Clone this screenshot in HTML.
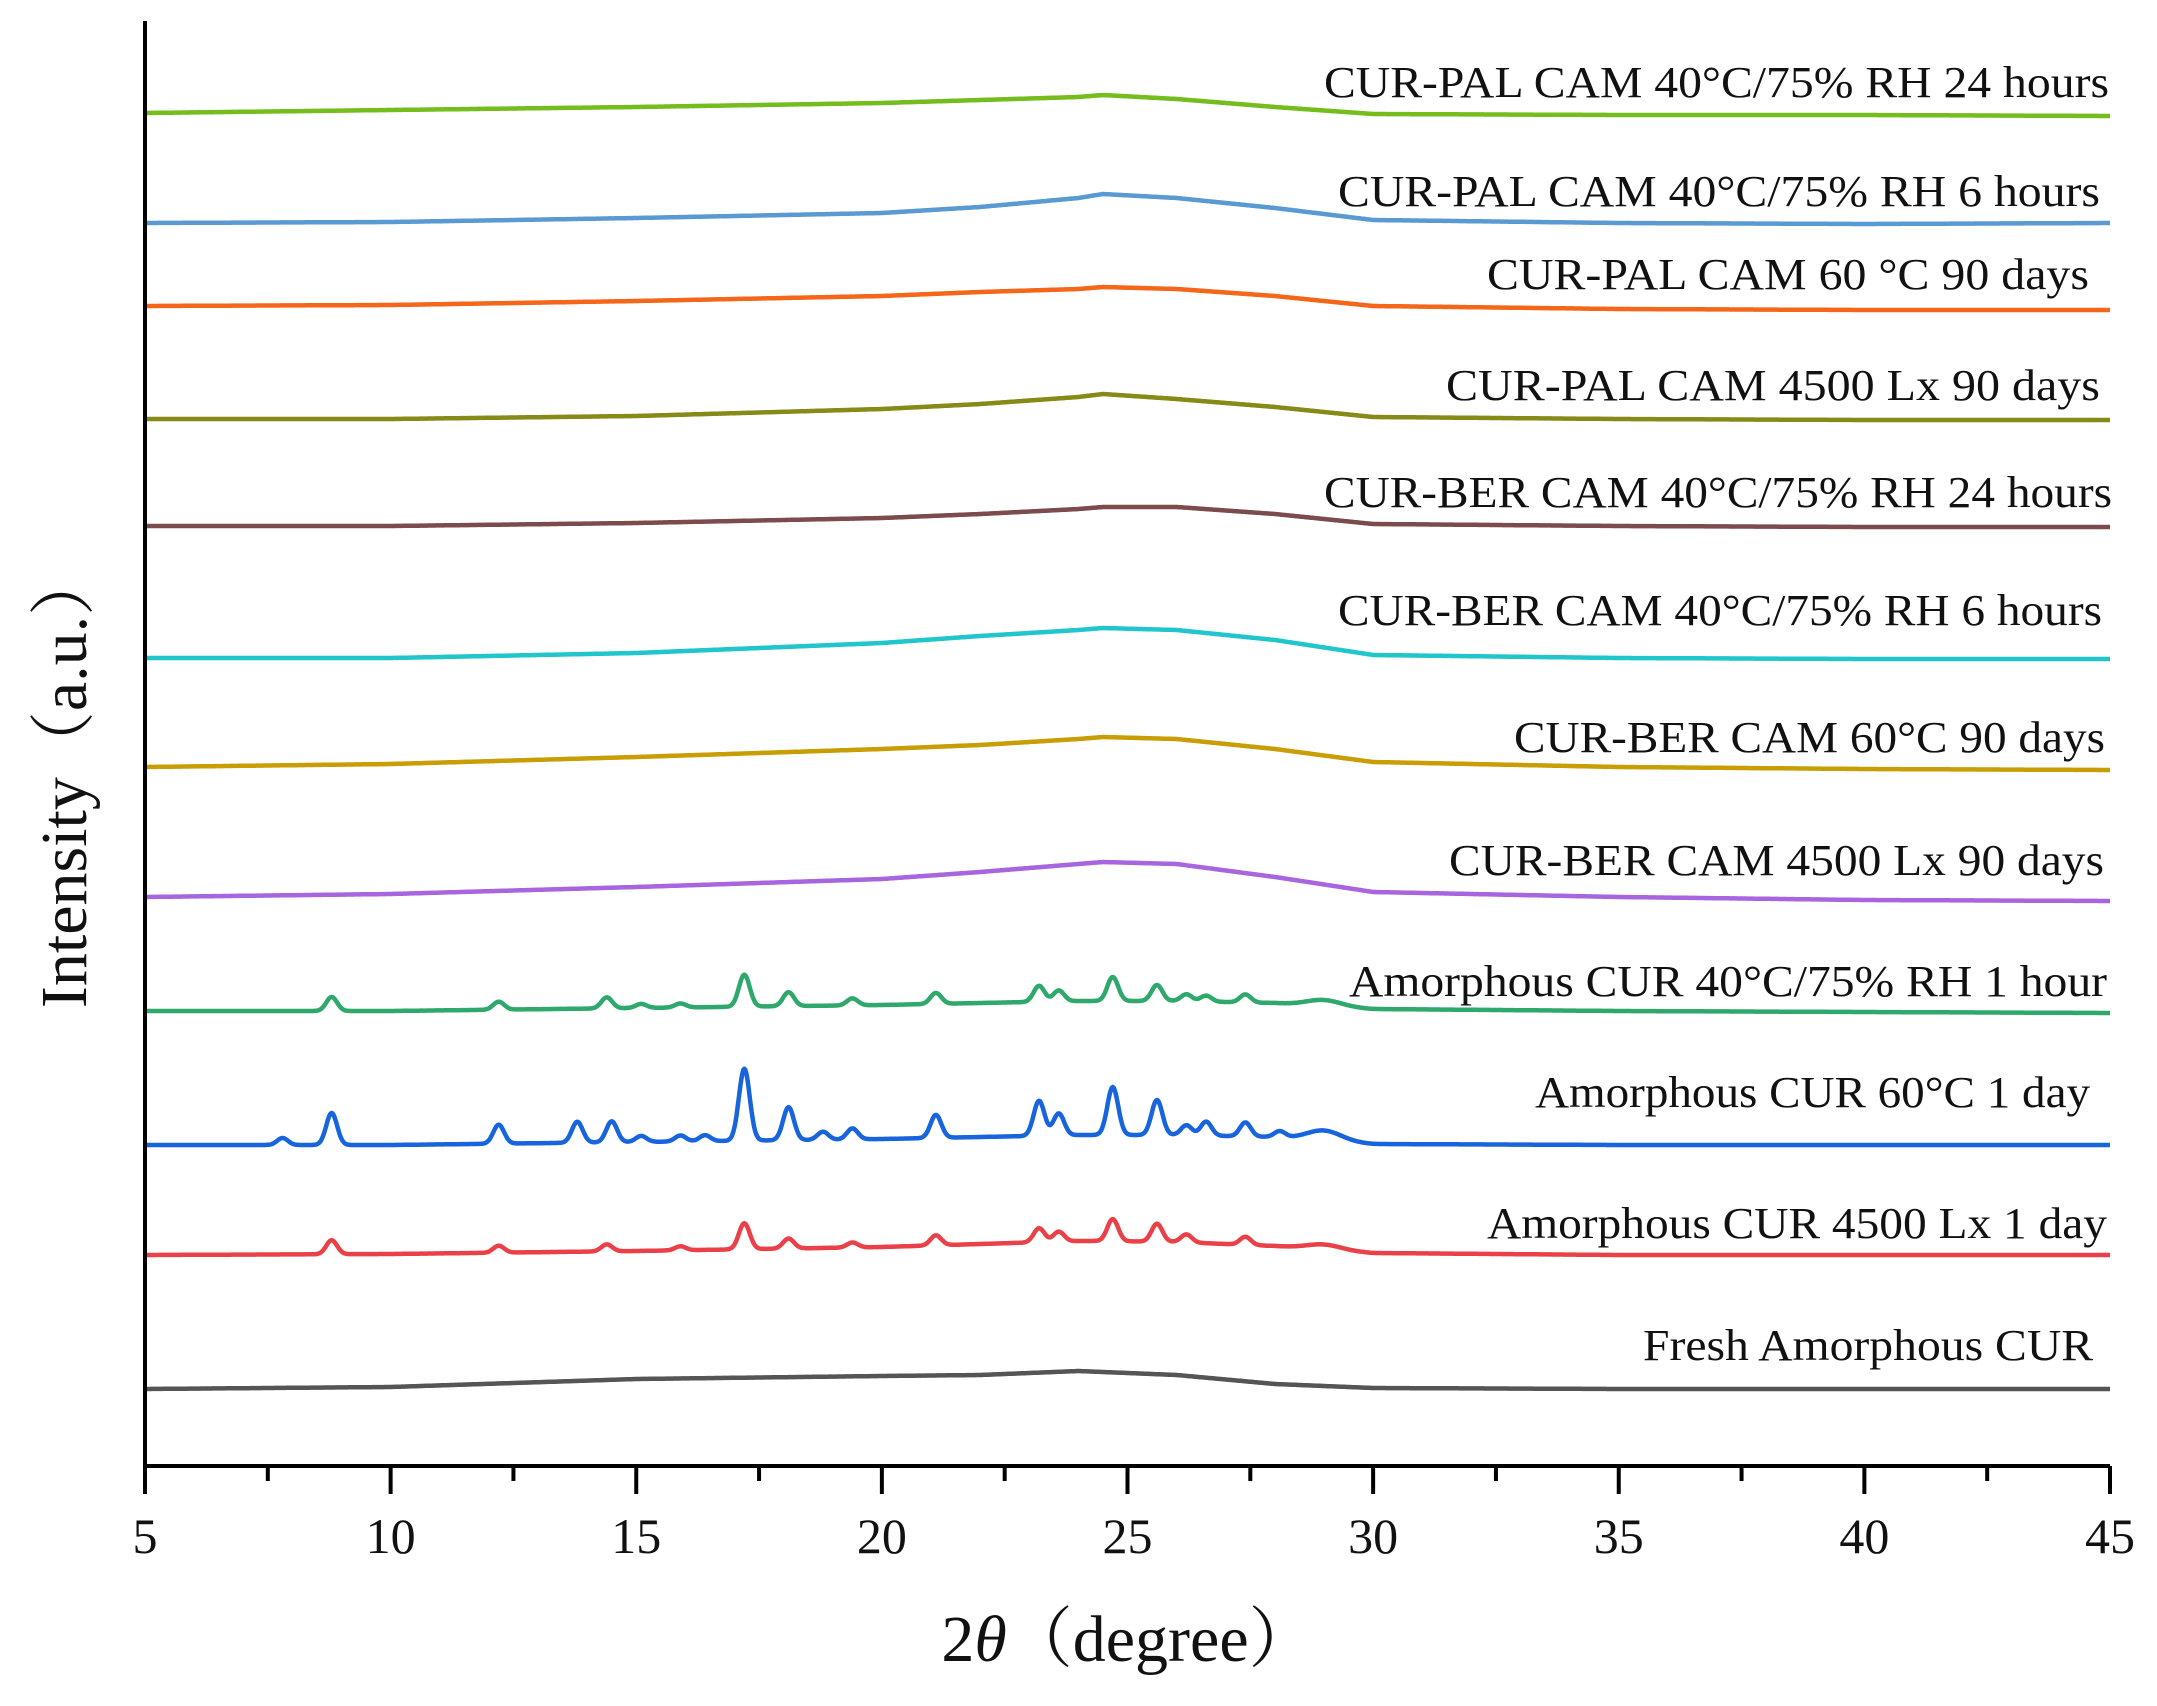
<!DOCTYPE html>
<html><head><meta charset="utf-8">
<style>html,body{margin:0;padding:0;background:#fff;}svg{display:block;}</style>
</head><body>
<svg id="chart" width="2157" height="1706" viewBox="0 0 2157 1706" xmlns="http://www.w3.org/2000/svg" font-family="'Liberation Serif', serif">
<g id="series"></g>
<g id="labels"></g>
<g id="axes"></g>
</svg>
<script>
// ---- data ----
const xTicks = [5,10,15,20,25,30,35,40,45];
const humpX = [5,10,15,20,22,24,24.5,26,28,30,35,40,45];
const seriesNames = [
 "CUR-PAL CAM 40°C/75% RH 24 hours","CUR-PAL CAM 40°C/75% RH 6 hours","CUR-PAL CAM 60 °C 90 days",
 "CUR-PAL CAM 4500 Lx 90 days","CUR-BER CAM 40°C/75% RH 24 hours","CUR-BER CAM 40°C/75% RH 6 hours",
 "CUR-BER CAM 60°C 90 days","CUR-BER CAM 4500 Lx 90 days","Amorphous CUR 40°C/75% RH 1 hour",
 "Amorphous CUR 60°C 1 day","Amorphous CUR 4500 Lx 1 day","Fresh Amorphous CUR"];
const seriesColors = ["#74bd1c","#5a9ad3","#f5661a","#868a17","#7b4b4e","#20c6cc","#c99e05","#a766df","#2fa86c","#1764dc","#ea4148","#555555"];
const seriesOffsets = [1353,1243,1160,1047,940,808,699,569,455,321,211,77];
const humps = [
 [0,3,6,10,13,16,18,14,6,-1,-2,-2,-3],
 [0,1,5,10,16,25,29,25,15,3,0,-1,0],
 [0,1,5,10,14,17,19,17,10,0,-3,-4,-4],
 [0,0,3,10,15,22,25,20,12,2,0,-1,-1],
 [0,0,3,8,12,17,19,19,12,2,0,-1,-1],
 [0,0,5,15,22,28,30,28,18,3,0,-1,-1],
 [0,3,10,18,22,28,30,28,18,5,0,-2,-3],
 [0,3,10,18,25,33,35,33,20,5,0,-3,-4],
 [0,0,3,6,8,10,10,10,8,2,0,-1,-2],
 [0,0,3,6,8,10,10,10,8,1,0,0,0],
 [0,1,4,8,11,14,14,13,9,2,0,0,0],
 [0,2,10,13,14,18,17,14,5,1,0,0,0]
];
const peaksGreen = [[8.8,14],[12.2,8],[14.4,11],[15.1,4],[15.9,4],[17.2,32],[18.1,14],[19.4,7],[21.1,11],[23.2,16],[23.6,11],[24.7,24],[25.6,16],[26.2,7],[26.6,6],[27.4,8],[29.0,6]];
const peaksBlue = [[7.8,7],[8.8,32],[12.2,19],[13.8,21],[14.5,21],[15.1,6],[15.9,6],[16.4,6],[17.2,72],[18.1,33],[18.8,8],[19.4,11],[21.1,23],[23.2,35],[23.6,22],[24.7,48],[25.6,35],[26.2,10],[26.6,14],[27.4,14],[28.1,6],[29.0,10]];
const peaksRed = [[8.8,14],[12.2,7],[14.4,7],[15.9,4],[17.2,26],[18.1,10],[19.4,5],[21.1,10],[23.2,14],[23.6,10],[24.7,22],[25.6,18],[26.2,8],[27.4,8],[29.0,5]];
const seriesPeaks = [[],[],[],[],[],[],[],[],peaksGreen,peaksBlue,peaksRed,[]];
const labelBaselines = [97,206,289,400,507,625,752,875,996,1107,1238,1360];
const labelRights = [2109,2100,2089,2100,2112,2102,2105,2104,2107,2090,2107,2093];
const labelLefts = [1324,1338,1487,1446,1324,1338,1514,1449,1349,1535,1487,1643];

// ---- scales ----
const X0=145, X1=2110, Y0=1466, YT=21;
const xs = v => X0 + (v-5)/(45-5)*(X1-X0);
const ys = v => Y0 - v;
const NS='http://www.w3.org/2000/svg';
function mk(tag, attrs, parent){const e=document.createElementNS(NS,tag);for(const k in attrs)e.setAttribute(k,attrs[k]);parent.appendChild(e);return e;}
function interp(arr,x){for(let i=0;i<humpX.length-1;i++){if(x<=humpX[i+1]){const t=(x-humpX[i])/(humpX[i+1]-humpX[i]);return arr[i]+t*(arr[i+1]-arr[i]);}}return arr[arr.length-1];}

const gS=document.getElementById('series');
seriesNames.forEach((name,i)=>{
  let d='';
  for(let x=5;x<=45.0001;x+=0.02){
    let v=seriesOffsets[i]+interp(humps[i],x);
    seriesPeaks[i].forEach(p=>{const w=p[0]>28.5?0.35:0.11;v+=p[1]*Math.exp(-((x-p[0])**2)/(2*w*w));});
    d+=(d?'L':'M')+xs(x).toFixed(1)+' '+ys(v).toFixed(1);
  }
  const path=mk('path',{d:d,fill:'none',stroke:seriesColors[i],'stroke-width':4.5,'stroke-linejoin':'round'},gS);
  
  
});
const gL=document.getElementById('labels');
seriesNames.forEach((name,i)=>{
  const t=mk('text',{x:labelRights[i],y:labelBaselines[i],'text-anchor':'end','font-size':44,fill:'#111',textLength:labelRights[i]-labelLefts[i],lengthAdjust:'spacingAndGlyphs'},gL);
  t.textContent=name;
  
  
});
const gA=document.getElementById('axes');
const ax=mk('path',{d:`M${X0} ${YT}L${X0} ${Y0}L${X1} ${Y0}`,fill:'none',stroke:'#000','stroke-width':4},gA);


for(let v=5;v<=45;v+=2.5){
  const major=(v%5===0);
  const tk=mk('line',{x1:xs(v),x2:xs(v),y1:Y0,y2:Y0+(major?28:15),stroke:'#000','stroke-width':4},gA);
  
  
}
xTicks.forEach(v=>{
  const t=mk('text',{x:xs(v),y:1553,'text-anchor':'middle','font-size':50,fill:'#111'},gA);
  t.textContent=String(v);
  
  
});
</script>
<svg style="position:absolute;left:0;top:0" width="2157" height="1706" font-family="'Liberation Serif', 'Noto Serif CJK SC', serif">
<text x="1128" y="1661" text-anchor="middle" font-size="66" fill="#111">2<tspan font-style="italic">θ</tspan>（degree）</text>
<text transform="translate(86,779) rotate(-90)" text-anchor="middle" font-size="66" fill="#111">Intensity（a.u.）</text>
</svg>
</body></html>
